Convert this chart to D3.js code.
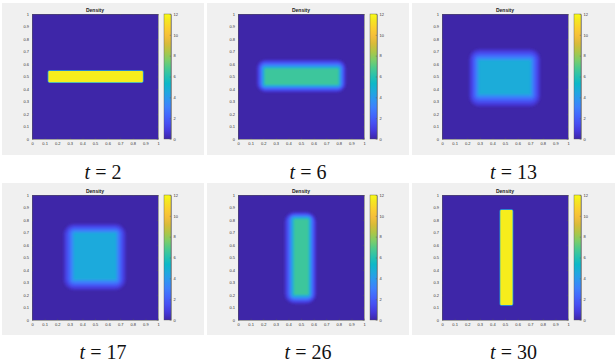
<!DOCTYPE html>
<html><head><meta charset="utf-8">
<script src="https://cdn.jsdelivr.net/npm/d3@7"></script>
<style>body{margin:0;background:#fff} svg{display:block}</style>
</head><body><svg id="c" width="615" height="363"></svg>
<script>
// ---------- data ----------
const times = [2, 6, 13, 17, 26, 30];
const colorTicks = [0, 2, 4, 6, 8, 10, 12];
const colorDomain = [0, 12];
const axisTicks = [0, 0.1, 0.2, 0.3, 0.4, 0.5, 0.6, 0.7, 0.8, 0.9, 1];
// density level sets per snapshot: [density, x0, x1, y0, y1]
const levels_t2 = [[4.5, 0.124, 0.886, 0.449, 0.551], [11.6, 0.13, 0.88, 0.455, 0.545]];
const levels_t6 = [[0.7, 0.15, 0.855, 0.375, 0.635], [1.7, 0.165, 0.842, 0.39, 0.618], [3.0, 0.18, 0.828, 0.404, 0.6], [4.6, 0.195, 0.814, 0.418, 0.583], [6.5, 0.21, 0.80, 0.432, 0.566]];
const levels_t13 = [[0.6, 0.215, 0.78, 0.26, 0.72], [1.4, 0.234, 0.761, 0.284, 0.698], [2.4, 0.253, 0.742, 0.308, 0.676], [3.5, 0.272, 0.723, 0.332, 0.654], [4.7, 0.29, 0.705, 0.355, 0.632]];
const levels_t17 = [[0.6, 0.25, 0.745, 0.24, 0.77], [1.4, 0.27, 0.726, 0.26, 0.752], [2.4, 0.29, 0.707, 0.28, 0.735], [3.4, 0.31, 0.688, 0.30, 0.717], [4.6, 0.33, 0.67, 0.32, 0.70]];
const levels_t26 = [[0.7, 0.37, 0.62, 0.13, 0.865], [1.7, 0.388, 0.606, 0.148, 0.851], [3.0, 0.406, 0.591, 0.165, 0.838], [4.6, 0.424, 0.577, 0.183, 0.824], [6.5, 0.442, 0.562, 0.20, 0.81]];
const levels_t30 = [[4.5, 0.457, 0.566, 0.114, 0.886], [11.6, 0.463, 0.56, 0.12, 0.88]];
const panelLevels = [levels_t2, levels_t6, levels_t13, levels_t17, levels_t26, levels_t30];
// parula colormap samples
const parulaPos = [0, 0.0635, 0.127, 0.1905, 0.254, 0.3175, 0.381, 0.4444, 0.508, 0.5714, 0.635, 0.6984, 0.7619, 0.8254, 0.8889, 0.9524, 1];
const parulaCol = ["#3e26a8", "#4539db", "#4750f3", "#4367fc", "#3e80fd", "#2e96f1", "#1ea9dd", "#0db8c8", "#29c2ad", "#4dca8d", "#7ecd68", "#aec646", "#d8bb38", "#f5bf3a", "#fbd02e", "#f5e720", "#f9fb15"];

// ---------- layout ----------
const svg = d3.select("#c");
const greyX = [2, 207, 412], greyW = [202, 202, 203];
const greyY = [3, 183], greyH = 152;
const plotL = [32, 238, 442], plotW = 126;
const plotT = [14, 195], plotH = 125;

const cmap = d3.scaleLinear().domain(parulaPos.map(p => colorDomain[0] + p * (colorDomain[1] - colorDomain[0]))).range(parulaCol).clamp(true);
const fmt = d => String(+d.toFixed(1));
const defs = svg.append("defs");

const grad = defs.append("linearGradient").attr("id", "cbgrad").attr("x1", 0).attr("y1", 1).attr("x2", 0).attr("y2", 0);
parulaPos.forEach((p, i) => grad.append("stop").attr("offset", p).attr("stop-color", parulaCol[i]));

times.forEach((t, i) => {
  const col = i % 3, row = Math.floor(i / 3);
  const L = plotL[col], T = plotT[row];
  const g = svg.append("g");
  g.append("rect").attr("x", greyX[col]).attr("y", greyY[row]).attr("width", greyW[col]).attr("height", greyH).attr("fill", "#f0f0f0");

  const x = d3.scaleLinear().domain([0, 1]).range([L, L + plotW]);
  const y = d3.scaleLinear().domain([0, 1]).range([T + plotH, T]);

  const clipId = "clip" + i, filtId = "blur" + i;
  defs.append("clipPath").attr("id", clipId).append("rect").attr("x", L).attr("y", T).attr("width", plotW).attr("height", plotH);
  const lv = panelLevels[i];
  const soft = lv.length > 2 ? 1.0 : 0.45;
  defs.append("filter").attr("id", filtId).attr("x", "-20%").attr("y", "-20%").attr("width", "140%").attr("height", "140%")
    .append("feGaussianBlur").attr("stdDeviation", soft);

  const plot = g.append("g").attr("clip-path", `url(#${clipId})`);
  plot.append("rect").attr("x", L).attr("y", T).attr("width", plotW).attr("height", plotH).attr("fill", cmap(0));
  const inner = lv[lv.length - 1];
  plot.append("g").attr("filter", `url(#${filtId})`)
    .selectAll("rect").data(lv).join("rect")
    .attr("x", d => x(d[1])).attr("y", d => y(d[4]))
    .attr("width", d => x(d[2]) - x(d[1])).attr("height", d => y(d[3]) - y(d[4]))
    .attr("rx", d => Math.max(0.5, x(inner[1]) - x(d[1]) + 1))
    .attr("fill", d => cmap(d[0]));

  // axes
  const axStyle = sel => {
    sel.selectAll(".domain").attr("stroke", "#555").attr("stroke-width", 0.5);
    sel.selectAll(".tick line").attr("stroke", "#555").attr("stroke-width", 0.4);
    sel.selectAll("text").attr("font-size", 4).attr("fill", "#333").attr("font-family", "Liberation Sans, Arial, sans-serif");
  };
  g.append("g").attr("transform", `translate(0,${T + plotH})`)
    .call(d3.axisBottom(x).tickValues(axisTicks).tickFormat(fmt).tickSizeInner(-1.3).tickSizeOuter(0).tickPadding(3)).call(axStyle);
  g.append("g").attr("transform", `translate(${L},0)`)
    .call(d3.axisLeft(y).tickValues(axisTicks).tickFormat(fmt).tickSizeInner(-1.3).tickSizeOuter(0).tickPadding(3)).call(axStyle);
  g.append("g").attr("transform", `translate(0,${T})`)
    .call(d3.axisTop(x).tickValues(axisTicks).tickFormat("").tickSizeInner(-1.3).tickSizeOuter(0)).call(axStyle);
  g.append("g").attr("transform", `translate(${L + plotW},0)`)
    .call(d3.axisRight(y).tickValues(axisTicks).tickFormat("").tickSizeInner(-1.3).tickSizeOuter(0)).call(axStyle);

  g.append("text").attr("x", L + plotW / 2).attr("y", T - 2).attr("text-anchor", "middle")
    .attr("font-size", 5).attr("font-weight", "bold").attr("fill", "#222")
    .attr("font-family", "Liberation Sans, Arial, sans-serif").text("Density");

  // colorbar
  const cbL = L + plotW + 6, cbW = 7;
  const cy = d3.scaleLinear().domain(colorDomain).range([T + plotH, T]);
  g.append("rect").attr("x", cbL).attr("y", T).attr("width", cbW).attr("height", plotH).attr("fill", "url(#cbgrad)");
  g.append("g").attr("transform", `translate(${cbL + cbW},0)`)
    .call(d3.axisRight(cy).tickValues(colorTicks).tickSizeInner(-1.3).tickSizeOuter(0).tickPadding(2.5)).call(axStyle);
  g.append("rect").attr("x", cbL).attr("y", T).attr("width", cbW).attr("height", plotH).attr("fill", "none").attr("stroke", "#555").attr("stroke-width", 0.4);

  // time label
  const lab = svg.append("text").attr("x", greyX[col] + greyW[col] / 2).attr("y", greyY[row] + greyH + 24)
    .attr("text-anchor", "middle").attr("font-size", 20).attr("fill", "#111")
    .attr("font-family", "Liberation Serif, DejaVu Serif, serif");
  lab.append("tspan").attr("font-style", "italic").text("t");
  lab.append("tspan").text(" = " + t);
});
</script></body></html>
